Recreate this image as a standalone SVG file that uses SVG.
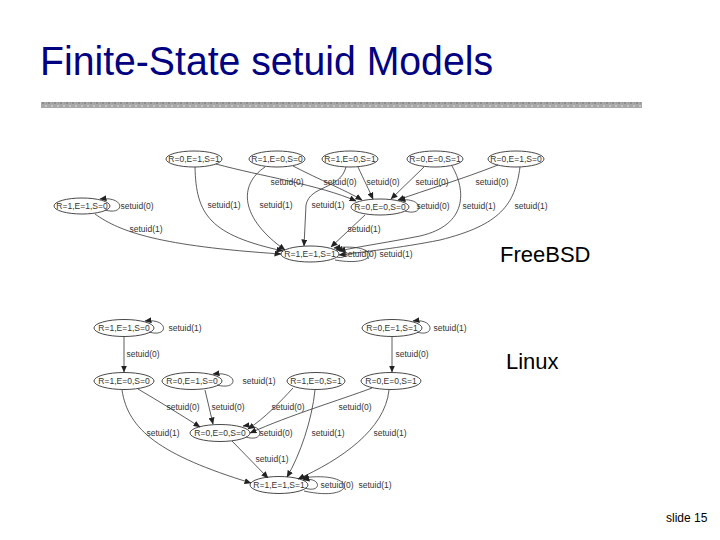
<svg xmlns="http://www.w3.org/2000/svg" width="720" height="540" viewBox="0 0 720 540">
<style>
.bg{fill:#fff}
.title{font-family:"Liberation Sans",Arial,sans-serif;font-size:41px;fill:#000080}
.big{font-family:"Liberation Sans",Arial,sans-serif;font-size:22px;fill:#000}
.small{font-family:"Liberation Sans",Arial,sans-serif;font-size:12px;fill:#000}
.node ellipse{fill:none;stroke:#333;stroke-width:0.9}
.node text{font-family:"Liberation Sans",Arial,sans-serif;font-size:8.5px;fill:#333;text-anchor:middle}
.edges path{fill:none;stroke:#333;stroke-width:0.8;marker-end:url(#ah)}
.lbl{font-family:"Liberation Sans",Arial,sans-serif;font-size:8.5px;fill:#333;text-anchor:middle}
</style>
<defs>
<marker id="ah" markerUnits="userSpaceOnUse" markerWidth="7" markerHeight="6" refX="6.5" refY="3" orient="auto">
<path d="M0,0 L7,3 L0,6 Z" fill="#222"/>
</marker>
<pattern id="noise" width="6" height="6" patternUnits="userSpaceOnUse">
<rect width="6" height="6" fill="#a8a8a8"/>
<rect x="0" y="0" width="2" height="2" fill="#8c8c8c"/>
<rect x="3" y="3" width="2" height="2" fill="#c4c4c4"/>
<rect x="4" y="0" width="1" height="2" fill="#999"/>
</pattern>
</defs>
<rect class="bg" x="0" y="0" width="720" height="540"/>
<text class="title" x="40" y="75" textLength="453" lengthAdjust="spacingAndGlyphs">Finite-State setuid Models</text>
<rect x="41" y="102" width="601" height="6" fill="url(#noise)"/>

<!-- FreeBSD graph -->
<g id="A" class="node"><ellipse cx="194" cy="159" rx="28" ry="8"/><text x="194" y="162">R=0,E=1,S=1</text></g>
<g id="B" class="node"><ellipse cx="277" cy="159" rx="28" ry="8"/><text x="277" y="162">R=1,E=0,S=0</text></g>
<g id="C" class="node"><ellipse cx="350" cy="159" rx="28" ry="8"/><text x="350" y="162">R=1,E=0,S=1</text></g>
<g id="D" class="node"><ellipse cx="435" cy="159" rx="28" ry="8"/><text x="435" y="162">R=0,E=0,S=1</text></g>
<g id="E" class="node"><ellipse cx="516" cy="159" rx="28" ry="8"/><text x="516" y="162">R=0,E=1,S=0</text></g>
<g id="F" class="node"><ellipse cx="82" cy="206" rx="28" ry="8"/><text x="82" y="209">R=1,E=1,S=0</text></g>
<g id="G" class="node"><ellipse cx="380" cy="207" rx="29" ry="8"/><text x="380" y="210">R=0,E=0,S=0</text></g>
<g id="H" class="node"><ellipse cx="310" cy="254" rx="29" ry="8"/><text x="310" y="257">R=1,E=1,S=1</text></g>

<!-- Linux graph -->
<g id="L1" class="node"><ellipse cx="124" cy="328" rx="30" ry="8.5"/><text x="124" y="331">R=1,E=1,S=0</text></g>
<g id="L2" class="node"><ellipse cx="392" cy="328" rx="30" ry="8.5"/><text x="392" y="331">R=0,E=1,S=1</text></g>
<g id="L3" class="node"><ellipse cx="124" cy="381" rx="30" ry="8.5"/><text x="124" y="384">R=1,E=0,S=0</text></g>
<g id="L5" class="node"><ellipse cx="192" cy="381" rx="30" ry="8.5"/><text x="192" y="384">R=0,E=1,S=0</text></g>
<g id="L6" class="node"><ellipse cx="316" cy="381" rx="29" ry="8.5"/><text x="316" y="384">R=1,E=0,S=1</text></g>
<g id="L4" class="node"><ellipse cx="391" cy="381" rx="30" ry="8.5"/><text x="391" y="384">R=0,E=0,S=1</text></g>
<g id="L7" class="node"><ellipse cx="220" cy="433" rx="30" ry="8.5"/><text x="220" y="436">R=0,E=0,S=0</text></g>
<g id="L8" class="node"><ellipse cx="279" cy="485" rx="29" ry="8.5"/><text x="279" y="488">R=1,E=1,S=1</text></g>

<g id="connectors" class="edges">
<!-- FreeBSD -->
<path d="M195,167 C196,215 210,235 283,251"/>
<path d="M216,164 C260,176 320,185 356,201"/>
<path d="M265,167 C238,185 240,218 285,250"/>
<path d="M293,166 C320,180 345,190 362,200"/>
<path d="M346,167 C340,190 310,185 306,205 L304,246"/>
<path d="M358,167 C364,180 369,190 373,199"/>
<path d="M424,167 L391,199"/>
<path d="M498,165 C460,180 425,190 398,200"/>
<path d="M452,166 C466,190 468,225 420,236 C390,242 362,246 339,251"/>
<path d="M520,167 C515,205 500,225 440,240 C400,248 362,252 339,255"/>
<path d="M95,214 C120,232 160,246 281,254"/>
<path d="M105,210 C125,216 126,196 100,199"/>
<path d="M405,211 C424,217 425,197 399,200"/>
<path d="M365,215 L331,247"/>
<path d="M337,257 C348,260 349,248 336,250"/>
<path d="M335,260 C381,268 381,242 334,248"/>
<!-- Linux -->
<path d="M149,332 C169,338 169,318 145,321"/>
<path d="M124,337 L124,372"/>
<path d="M417,332 C435,338 435,318 413,321"/>
<path d="M392,337 L392,372"/>
<path d="M217,385 C239,391 239,371 213,374"/>
<path d="M138,389 C160,402 178,413 200,427"/>
<path d="M122,390 C128,430 160,455 251,483"/>
<path d="M205,390 L213,424"/>
<path d="M293,388 C280,402 265,418 248,429"/>
<path d="M372,388 C340,400 290,415 250,433"/>
<path d="M315,390 C312,420 300,455 287,477"/>
<path d="M389,390 C385,430 340,460 298,479"/>
<path d="M232,441 L268,478"/>
<path d="M246,437 C265,443 265,423 243,426"/>
<path d="M305,488 C322,494 322,476 303,480"/>
<path d="M304,491 C358,503 358,470 302,478"/>
</g>

<g id="labels">
<text class="lbl" x="287" y="185">setuid(0)</text>
<text class="lbl" x="340" y="185">setuid(0)</text>
<text class="lbl" x="383" y="185">setuid(0)</text>
<text class="lbl" x="432" y="185">setuid(0)</text>
<text class="lbl" x="492" y="185">setuid(0)</text>
<text class="lbl" x="137" y="209">setuid(0)</text>
<text class="lbl" x="224" y="208">setuid(1)</text>
<text class="lbl" x="276" y="208">setuid(1)</text>
<text class="lbl" x="328" y="208">setuid(1)</text>
<text class="lbl" x="433" y="209">setuid(0)</text>
<text class="lbl" x="479" y="209">setuid(1)</text>
<text class="lbl" x="531" y="209">setuid(1)</text>
<text class="lbl" x="146" y="232">setuid(1)</text>
<text class="lbl" x="364" y="232">setuid(1)</text>
<text class="lbl" x="360" y="257">setuid(0)</text>
<text class="lbl" x="396" y="257">setuid(1)</text>

<text class="lbl" x="185" y="331">setuid(1)</text>
<text class="lbl" x="143" y="357">setuid(0)</text>
<text class="lbl" x="450" y="331">setuid(1)</text>
<text class="lbl" x="412" y="357">setuid(0)</text>
<text class="lbl" x="259" y="384">setuid(1)</text>
<text class="lbl" x="183" y="410">setuid(0)</text>
<text class="lbl" x="228" y="410">setuid(0)</text>
<text class="lbl" x="288" y="410">setuid(0)</text>
<text class="lbl" x="355" y="410">setuid(0)</text>
<text class="lbl" x="163" y="436">setuid(1)</text>
<text class="lbl" x="276" y="436">setuid(0)</text>
<text class="lbl" x="328" y="436">setuid(1)</text>
<text class="lbl" x="390" y="436">setuid(1)</text>
<text class="lbl" x="272" y="462">setuid(1)</text>
<text class="lbl" x="337" y="488">setuid(0)</text>
<text class="lbl" x="375" y="488">setuid(1)</text>
</g>

<text class="big" x="500" y="262">FreeBSD</text>
<text class="big" x="506" y="369">Linux</text>
<text class="small" x="666" y="522">slide 15</text>
</svg>
